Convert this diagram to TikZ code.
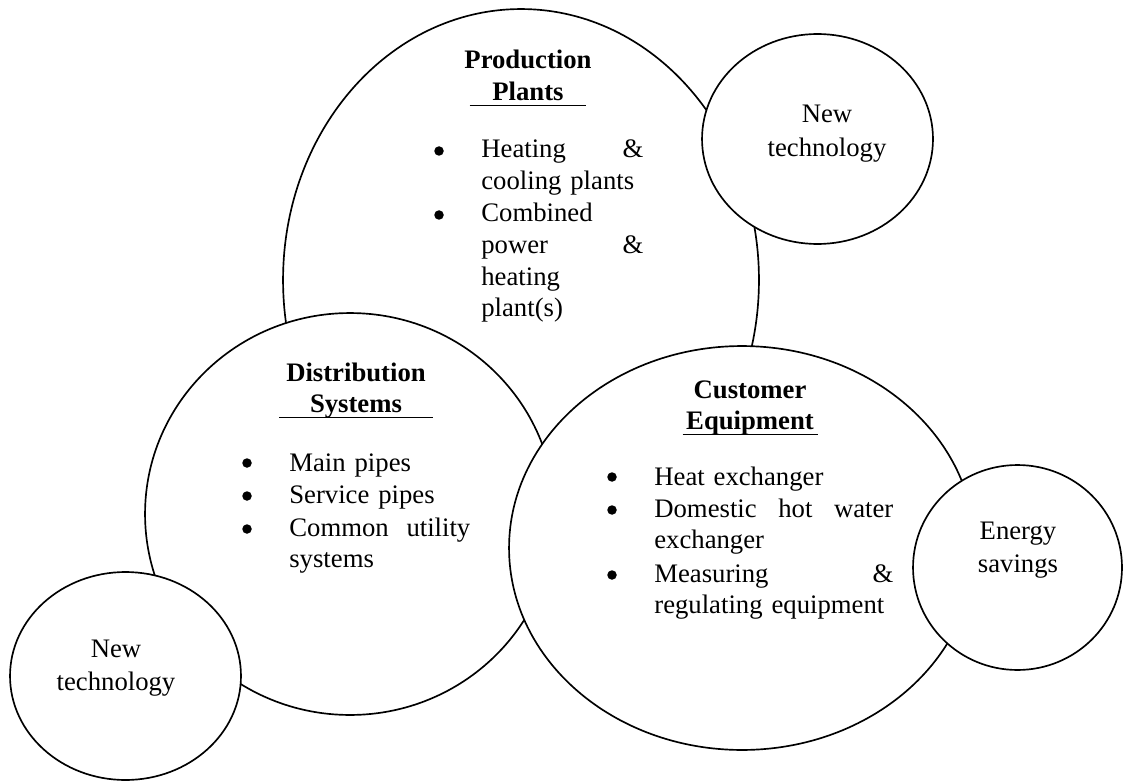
\documentclass[tikz,border=0pt]{standalone}
\usepackage{fontspec}
\setmainfont{Liberation Serif}
\usetikzlibrary{shapes.geometric}

\newcommand{\ulword}[2]{\makebox[#1]{#2}\llap{\rule[-3pt]{#1}{0.7pt}}}

\begin{document}
\begin{tikzpicture}[x=0.02cm,y=-0.02cm,
  bubble/.style={draw,ellipse,fill=white,line width=0.95pt,inner sep=0pt},
  head/.style={font=\bfseries\fontsize{15.2}{18.2}\selectfont,align=center,text width=4cm,anchor=base,inner sep=0pt},
  item/.style={font=\fontsize{15.2}{18}\selectfont,align=left,anchor=base west,inner sep=0pt},
  dot/.style={circle,fill,inner sep=0pt,minimum size=0.19cm},
  word/.style={font=\fontsize{15.2}{19.3}\selectfont,align=center,text width=4cm,anchor=base,inner sep=0pt}]
\useasboundingbox (0,0) rectangle (1124,780);

\node[bubble, minimum width=9.52cm, minimum height=10.84cm] (prod) at (521,280) {};
\node[bubble, minimum width=4.62cm, minimum height=4.2cm] (newtop) at (817.5,139) {};
\node[bubble, minimum width=8.2cm, minimum height=8.04cm] (dist) at (350,514) {};
\node[bubble, minimum width=9.32cm, minimum height=8.08cm] (cust) at (742,548) {};
\node[bubble, minimum width=4.18cm, minimum height=4.1cm] (save) at (1017.5,567.5) {};
\node[bubble, minimum width=4.62cm, minimum height=4.16cm] (newlow) at (125.5,676) {};

% production plants
\node[head] (prodhead) at (528,69) {Production\\\ulword{2.34cm}{Plants}};
\node[dot] (prodb1) at (439,151) {};
\node[dot] (prodb2) at (439,215) {};
\node[item, text width=3.24cm] (prodi1) at (481,158) {Heating\hfill\&\\cooling plants};
\node[item, text width=3.24cm] (prodi2) at (481,222) {Combined\\power\hfill\&\\heating\\plant(s)};

% distribution systems
\node[head] (disthead) at (356,381) {Distribution\\\ulword{3.08cm}{Systems}};
\node[dot] (distb1) at (247,463) {};
\node[dot] (distb2) at (247,496) {};
\node[dot] (distb3) at (247,529) {};
\node[item, text width=3.62cm] (disti1) at (289,471) {Main pipes};
\node[item, text width=3.62cm] (disti2) at (289,503) {Service pipes};
\node[item, text width=3.62cm] (disti3) at (289,536) {Common\hfill utility\\systems};

% customer equipment
\node[head] (custhead) at (750,398) {Customer\\\ulword{2.7cm}{Equipment}};
\node[dot] (custb1) at (612,477) {};
\node[dot] (custb2) at (612,510) {};
\node[dot] (custb3) at (612,575) {};
\node[item, text width=4.78cm] (custi1) at (654,485) {Heat exchanger};
\node[item, text width=4.78cm] (custi2) at (654,517) {Domestic\hfill hot\hfill water\\exchanger};
\node[item, text width=4.78cm] (custi3) at (654,582) {Measuring\hfill\&\\regulating equipment};

% small circles
\node[word] (newtoptext) at (827,123) {New\\technology};
\node[word] (savetext) at (1018,539) {Energy\\savings};
\node[word] (newlowtext) at (116,657) {New\\technology};
\end{tikzpicture}
\end{document}
